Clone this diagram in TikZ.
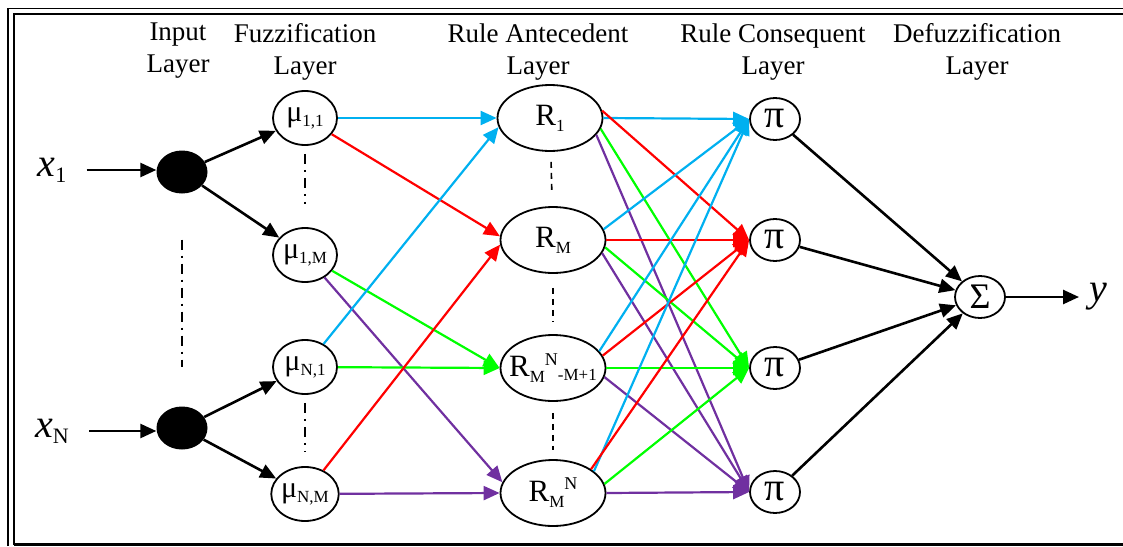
\documentclass[tikz,border=0pt]{standalone}
\usepackage{fontspec}
\setmainfont{Liberation Serif}
\usetikzlibrary{arrows.meta,shapes.geometric}
\definecolor{ccyan}{HTML}{00B0F0}
\definecolor{cred}{HTML}{FF0000}
\definecolor{cgreen}{HTML}{00FF00}
\definecolor{cpurple}{HTML}{7030A0}
\newcommand\sbx[3][17]{\raisebox{-#2}{\fontsize{#1}{#1}\selectfont #3}}
\newcommand\spx[3][18]{\raisebox{#2}{\fontsize{#1}{#1}\selectfont #3}}
\begin{document}
\begin{tikzpicture}[x=1pt,y=-1pt,
  lbl/.style={align=center,font=\fontsize{27}{32}\selectfont,inner sep=0pt},
  mu/.style={ellipse,draw,line width=1.8pt,minimum width=64pt,minimum height=54pt,inner sep=0pt,font=\fontsize{30}{30}\selectfont},
  rule/.style={ellipse,draw,line width=1.8pt,minimum width=105pt,minimum height=66pt,inner sep=0pt,font=\fontsize{31}{32}\selectfont},
  prod/.style={ellipse,draw,line width=1.8pt,minimum width=50pt,minimum height=42pt,inner sep=0pt,font=\fontsize{40}{40}\selectfont},
  innode/.style={ellipse,fill=black,minimum width=51pt,minimum height=43pt,inner sep=0pt},
  xlbl/.style={inner sep=0pt,font=\fontsize{40}{40}\selectfont},
  carr/.style={line width=2.2pt,-{Triangle[length=16pt,width=14pt]}},
  barr/.style={line width=2.6pt,-{Triangle[length=16pt,width=14pt]}},
  dd/.style={line width=1.6pt,dash pattern=on 10pt off 6pt on 2pt off 6pt},
  dsh/.style={line width=1.6pt,dash pattern=on 6pt off 5pt}]
\useasboundingbox (0,0) rectangle (1123,546);
% frame
\draw[line width=1.6pt] (8,546) -- (8,8.5) -- (1123,8.5);
\draw[line width=2.4pt] (14,544.5) -- (14,14) -- (1123,14);
\draw[line width=3pt] (14,544.5) -- (1123,544.5);
% layer labels
\node[lbl] (L1) at (178,51) {Input\\Layer};
\node[lbl] (L2) at (305,52) {Fuzzification\\Layer};
\node[lbl] (L3) at (538,52) {Rule Antecedent\\Layer};
\node[lbl] (L4) at (773,52) {Rule Consequent\\Layer};
\node[lbl] (L5) at (977,52) {Defuzzification\\Layer};
% inputs
\node[xlbl] (x1) at (52,170) {{\itshape x}\sbx[22]{6pt}{1}};
\node[xlbl] (xN) at (52,431) {{\itshape x}\sbx[22]{6pt}{N}};
\node[innode] (in1) at (182,172) {};
\node[innode] (inN) at (182,428) {};
% fuzzification
\node[mu] (m11) at (305,118) {μ\sbx{5pt}{1,1}};
\node[mu] (m1M) at (305,255) {μ\sbx{5pt}{1,M}};
\node[mu] (mN1) at (305,367) {μ\sbx{5pt}{N,1}};
\node[mu] (mNM) at (305,494) {μ\sbx{5pt}{N,M}};
% rule antecedent
\node[rule] (R1) at (550,118) {\makebox[0pt]{R\sbx{6pt}{1}}};
\node[rule] (RM) at (553,240) {\makebox[0pt]{R\sbx{6pt}{M}}};
\node[rule] (R3) at (553,368) {\makebox[0pt]{R\sbx{6pt}{M}\spx{11pt}{N}\sbx{4pt}{-M+1}}};
\node[rule] (R4) at (553,493) {\makebox[0pt]{R\sbx{6pt}{M}\spx{12pt}{N}}};
% rule consequent
\node[prod] (p1) at (775,119) {π};
\node[prod] (p2) at (775,240) {π};
\node[prod] (p3) at (775,368) {π};
\node[prod] (p4) at (775,492) {π};
% defuzzification
\node[prod,font=\fontsize{36}{36}\selectfont] (S) at (980,297) {Σ};
\node[xlbl,anchor=west] (ylab) at (1089,297) {\itshape y};
% input arrows
\draw[barr] ([xshift=20pt]x1.east) -- (x1.east -| in1.west);
\draw[barr] ([xshift=20pt]xN.east) -- (xN.east -| inN.west);
\draw[barr] (in1) -- (m11);
\draw[barr] (in1) -- (m1M);
\draw[barr] (inN) -- (mN1);
\draw[barr] (inN) -- (mNM);
% dotted separators
\draw[dd,shorten <=46pt,shorten >=39pt] (in1) -- (inN);
\draw[dd,shorten <=8pt,shorten >=23pt] (m11) -- (m1M);
\draw[dd,shorten <=8pt,shorten >=15pt] (mN1) -- (mNM);
\draw[dsh,shorten <=10pt,shorten >=15pt] (R1) -- (RM);
\draw[dsh,shorten <=14pt,shorten >=13pt] (RM) -- (R3);
\draw[dsh,shorten <=11pt,shorten >=9pt] (R3) -- (R4);
% fuzzification -> antecedent
\draw[carr,ccyan] (m11) -- (R1.west);
\draw[carr,cred] (m11) -- (RM.176);
\draw[carr,cgreen] (m1M) -- (R3.west);
\draw[carr,cpurple] (m1M) -- (R4.168);
\draw[carr,ccyan] (mN1) -- (R1.190);
\draw[carr,cgreen] (mN1) -- (R3.west);
\draw[carr,cred] (mNM) -- (RM.185);
\draw[carr,cpurple] (mNM) -- (R4.west);
% antecedent -> consequent
\draw[carr,ccyan] (R1.east) -- (p1.west);
\draw[carr,cred] (R1.8) -- (p2.west);
\draw[carr,cgreen] (R1.-12) -- (p3.west);
\draw[carr,cpurple] (R1.-20) -- (p4.west);
\draw[carr,ccyan] (RM.12) -- (p1.west);
\draw[carr,cred] (RM.east) -- (p2.west);
\draw[carr,cgreen] (RM.-8) -- (p3.west);
\draw[carr,cpurple] (RM.-15) -- (p4.west);
\draw[carr,ccyan] (R3.20) -- (p1.west);
\draw[carr,cred] (R3.14) -- (p2.west);
\draw[carr,cgreen] (R3.east) -- (p3.west);
\draw[carr,cpurple] (R3.-10) -- (p4.west);
\draw[carr,ccyan] (R4.28) -- (p1.west);
\draw[carr,cred] (R4.32) -- (p2.west);
\draw[carr,cgreen] (R4.10) -- (p3.west);
\draw[carr,cpurple] (R4.east) -- (p4.west);
% consequent -> sum
\draw[barr] (p1) -- (S);
\draw[barr] (p2) -- (S);
\draw[barr] (p3) -- (S);
\draw[barr] (p4) -- (S);
\draw[barr,shorten >=10pt] (S) -- (ylab.west);
\end{tikzpicture}
\end{document}
